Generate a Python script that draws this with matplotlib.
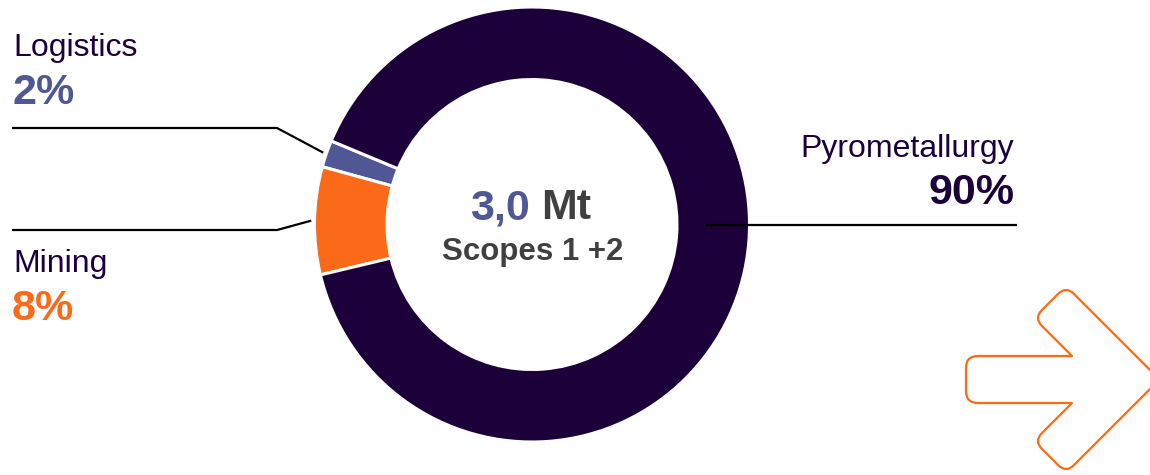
import numpy as np
import matplotlib
matplotlib.use("Agg")
import matplotlib.pyplot as plt
from matplotlib.path import Path
from matplotlib.patches import PathPatch

# ---------------- data ----------------
categories = ["Logistics", "Mining", "Pyrometallurgy"]
shares = [2, 8, 90]
share_labels = ["2%", "8%", "90%"]
total_value = "3,0"
total_unit = "Mt"
subtitle = "Scopes 1 +2"

# ---------------- style ----------------
DARK = "#1B003A"
SLATE = "#4F5794"
ORANGE = "#FA6A18"
GRAY = "#404040"
seg_colors = [SLATE, ORANGE, DARK]
pct_colors = [SLATE, ORANGE, DARK]

plt.rcParams["font.family"] = ["Liberation Sans", "DejaVu Sans"]

W, H = 1150, 475
fig = plt.figure(figsize=(W / 100, H / 100), dpi=100)
ax = fig.add_axes([0, 0, 1, 1])


def Y(y_px):
    return H - y_px


cx, cy = 532, Y(224.5)
R_out, ring_w = 217.5, 72.5
start = 157.4

wedges, _ = ax.pie(shares, colors=seg_colors, startangle=start, counterclock=True,
                   radius=R_out, center=(cx, cy),
                   wedgeprops=dict(width=ring_w, edgecolor="white", linewidth=2.2))

ax.set_xlim(0, W)
ax.set_ylim(0, H)
ax.set_aspect("auto")
ax.axis("off")

# mid angles of wedges
cum = np.cumsum([0] + shares)
mids = [start + 360 * (cum[i] + cum[i + 1]) / 200 for i in range(len(shares))]


def polar(r, ang):
    a = np.deg2rad(ang)
    return cx + r * np.cos(a), cy + r * np.sin(a)


# leader lines
lw = 1.6
# Logistics
px, py = polar(R_out * 1.015, mids[0])
ax.plot([12, 277, px], [Y(128), Y(128), py], color="black", lw=lw, solid_capstyle="butt")
# Mining
px, py = polar(R_out * 1.015, mids[1])
ax.plot([12, 277, px], [Y(230), Y(230), py], color="black", lw=lw, solid_capstyle="butt")
# Pyrometallurgy
px, py = polar(R_out - ring_w / 2 - 7, 0)
ax.plot([px, 1017], [py, py], color="black", lw=lw, solid_capstyle="butt")

# labels
lab_fs, pct_fs = 23, 31
ax.text(13, Y(56), categories[0], fontsize=lab_fs, color=DARK, ha="left", va="baseline")
ax.text(12, Y(104.5), share_labels[0], fontsize=pct_fs, fontweight="bold", color=pct_colors[0],
        ha="left", va="baseline")
ax.text(13, Y(272), categories[1], fontsize=lab_fs, color=DARK, ha="left", va="baseline")
ax.text(12, Y(319.5), share_labels[1], fontsize=pct_fs, fontweight="bold", color=pct_colors[1],
        ha="left", va="baseline")
ax.text(1014, Y(157), categories[2], fontsize=lab_fs, color=DARK, ha="right", va="baseline")
ax.text(1015, Y(204.5), share_labels[2], fontsize=pct_fs, fontweight="bold", color=pct_colors[2],
        ha="right", va="baseline")

# center text
ax.text(530, Y(219), total_value, fontsize=31, fontweight="bold", color=SLATE,
        ha="right", va="baseline")
ax.text(541, Y(219), total_unit, fontsize=31, fontweight="bold", color=GRAY,
        ha="left", va="baseline")
ax.text(533, Y(260), subtitle, fontsize=22.5, fontweight="bold", color=GRAY,
        ha="center", va="baseline")


# decorative arrow outline with rounded corners
def rounded_path(pts, radii):
    n = len(pts)
    verts, codes = [], []
    for i in range(n):
        P = np.array(pts[i - 1], float)
        V = np.array(pts[i], float)
        N = np.array(pts[(i + 1) % n], float)
        r = radii[i]
        if r <= 0:
            verts.append(V)
            codes.append(Path.MOVETO if i == 0 else Path.LINETO)
            continue
        u1 = (P - V) / np.linalg.norm(P - V)
        u2 = (N - V) / np.linalg.norm(N - V)
        a = V + r * u1
        b = V + r * u2
        verts.append(a)
        codes.append(Path.MOVETO if i == 0 else Path.LINETO)
        verts += [V, b]
        codes += [Path.CURVE3, Path.CURVE3]
    verts.append(verts[0])
    codes.append(Path.CLOSEPOLY)
    return Path(verts, codes)


arrow_px = [(966, 356), (1072, 356), (1034, 318), (1066, 286), (1159.5, 379.5),
            (1066, 473), (1034, 441), (1072, 403), (966, 403)]
arrow_r = [12, 0, 11, 11, 8, 11, 11, 0, 12]
arrow_pts = [(x, Y(y)) for x, y in arrow_px]
patch = PathPatch(rounded_path(arrow_pts, arrow_r), facecolor="none", edgecolor="#FF6A13",
                  lw=1.6, joinstyle="round")
ax.add_patch(patch)

fig.savefig("out.png", dpi=100)
